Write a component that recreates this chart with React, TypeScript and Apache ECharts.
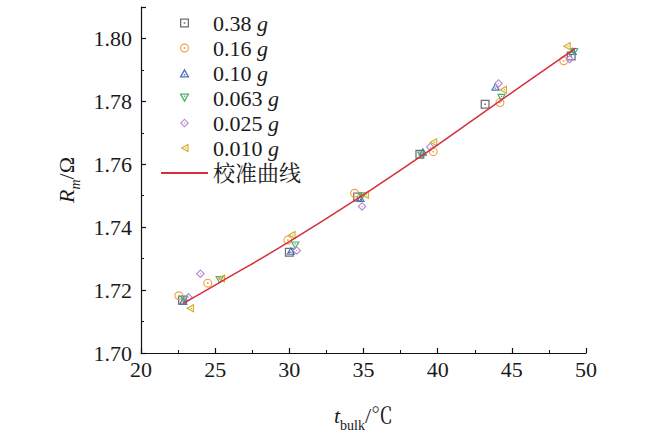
import React, { useEffect, useRef } from "react";
import * as echarts from "echarts";

// ---- data ----
const seriesNames = ["0.38 g", "0.16 g", "0.10 g", "0.063 g", "0.025 g", "0.010 g"];
const lineName = "校准曲线";

const t038 = [22.8, 30.0, 34.6, 38.8, 43.2, 49.0];
const r038 = [1.7168, 1.732, 1.7496, 1.7632, 1.7791, 1.7944];
const t016 = [22.55, 24.5, 29.9, 34.4, 39.7, 44.2, 48.5];
const r016 = [1.7182, 1.7222, 1.7359, 1.7508, 1.764, 1.7796, 1.7929];
const t010 = [22.85, 30.1, 34.8, 39.0, 43.9, 49.1];
const r010 = [1.7166, 1.7325, 1.7493, 1.764, 1.7847, 1.796];
const t0063 = [22.9, 25.3, 30.4, 34.9, 38.9, 44.3, 49.2];
const r0063 = [1.717, 1.7232, 1.7342, 1.7498, 1.7628, 1.7811, 1.7957];
const t0025 = [23.2, 24.0, 30.5, 34.9, 39.5, 44.1, 48.9];
const r0025 = [1.7177, 1.7252, 1.7326, 1.7466, 1.7655, 1.7857, 1.7934];
const t0010 = [23.3, 25.4, 30.15, 35.1, 39.7, 44.4, 48.7];
const r0010 = [1.7142, 1.7237, 1.7375, 1.7503, 1.767, 1.7837, 1.7975];

const tCurve = [22.85, 25, 30, 35, 40, 45, 49.3];
const rCurve = [1.7158, 1.7216, 1.7354, 1.7503, 1.7662, 1.7828, 1.7969];

const xTicks = { min: 20, max: 50, interval: 5 };
const yTicks = { min: 1.7, max: 1.81, interval: 0.02 };

const colors = ["#6e6e6e", "#f0a048", "#4a6fb5", "#4caf70", "#b68ad8", "#d4ae2c"];
const lineColor = "#d62f3c";

const symbols = [
  "path://M0,0L10,0L10,10L0,10Z M1.4,1.4L1.4,8.6L8.6,8.6L8.6,1.4Z M4.1,4.1L5.9,4.1L5.9,5.9L4.1,5.9Z",
  "path://M0,5A5,5,0,1,1,10,5A5,5,0,1,1,0,5Z M1.3,5A3.7,3.7,0,1,0,8.7,5A3.7,3.7,0,1,0,1.3,5Z M4,5A1,1,0,1,1,6,5A1,1,0,1,1,4,5Z",
  "path://M5,0L10,9L0,9Z M5,2.7L2.2,7.7L7.8,7.7Z M4.3,5.5L5.7,5.5L5.7,6.9L4.3,6.9Z",
  "path://M0,0L10,0L5,9Z M2.2,1.3L5,6.3L7.8,1.3Z M4.3,2.1L5.7,2.1L5.7,3.5L4.3,3.5Z",
  "path://M5,0L10,5L5,10L0,5Z M5,1.8L1.8,5L5,8.2L8.2,5Z M5,4.2L5.8,5L5,5.8L4.2,5Z",
  "path://M0,5L9,0L9,10Z M2.7,5L7.7,7.8L7.7,2.2Z M5.3,4.3L6.7,4.3L6.7,5.7L5.3,5.7Z",
];

const tData = [t038, t016, t010, t0063, t0025, t0010];
const rData = [r038, r016, r010, r0063, r0025, r0010];

const SERIF = "Liberation Serif, Noto Serif CJK SC, Noto Sans CJK SC, serif";
const TXT = "#1a1a1a";

export default function App() {
  const ref = useRef<HTMLDivElement>(null);
  useEffect(() => {
    if (!ref.current) return;
    const chart = echarts.init(ref.current, undefined, { renderer: "svg" });
    const scatterSeries = seriesNames.map((name, i) => ({
      name,
      type: "scatter",
      symbol: symbols[i],
      symbolSize: 9,
      symbolKeepAspect: true,
      itemStyle: { color: colors[i], opacity: 1 },
      data: tData[i].map((t, j) => [t, rData[i][j]]),
      z: 2,
    }));
    const option = {
      animation: false,
      grid: { left: 141, right: 64, top: 7, bottom: 70, containLabel: false },
      legend: {
        orient: "vertical",
        left: 155,
        top: 7,
        itemGap: 3,
        itemWidth: 47,
        itemHeight: 9,
        data: [
          ...seriesNames,
          { name: lineName, itemStyle: { color: "rgba(0,0,0,0)", borderWidth: 0, opacity: 0 } },
        ],
        formatter: (name: string) =>
          name.endsWith(" g") ? `{n|${name.slice(0, -1)}}{g|g}` : `{n|${name}}`,
        textStyle: {
          fontFamily: SERIF,
          fontSize: 22,
          color: TXT,
          rich: {
            n: { fontFamily: SERIF, fontSize: 22, color: TXT },
            g: { fontFamily: SERIF, fontSize: 22, color: TXT, fontStyle: "italic" },
          },
        },
      },
      xAxis: {
        type: "value",
        min: xTicks.min,
        max: xTicks.max,
        interval: xTicks.interval,
        name: "{i|t}{s|bulk}{n|/℃}",
        nameLocation: "middle",
        nameGap: 50,
        nameTextStyle: {
          rich: {
            i: { fontFamily: SERIF, fontSize: 22, fontStyle: "italic", color: TXT, verticalAlign: "bottom", lineHeight: 24 },
            s: { fontFamily: SERIF, fontSize: 14, color: TXT, verticalAlign: "bottom", lineHeight: 24, padding: [0, 0, -5, 0] },
            n: { fontFamily: SERIF, fontSize: 22, color: TXT, verticalAlign: "bottom", lineHeight: 24 },
          },
        },
        axisLine: { onZero: false, lineStyle: { color: "#111", width: 1.2 } },
        axisTick: { inside: true, length: 5, lineStyle: { color: "#111", width: 1.2 } },
        minorTick: { show: true, splitNumber: 2, length: 3, lineStyle: { color: "#111", width: 1 } },
        axisLabel: { fontFamily: SERIF, fontSize: 22, color: TXT, margin: 5 },
        splitLine: { show: false },
      },
      yAxis: {
        type: "value",
        min: yTicks.min,
        max: yTicks.max,
        interval: yTicks.interval,
        name: "{i|R}{s|m}{n|/Ω}",
        nameLocation: "middle",
        nameRotate: 90,
        nameGap: 64,
        nameTextStyle: {
          rich: {
            i: { fontFamily: SERIF, fontSize: 22, fontStyle: "italic", color: TXT, verticalAlign: "bottom", lineHeight: 24 },
            s: { fontFamily: SERIF, fontSize: 14, fontStyle: "italic", color: TXT, verticalAlign: "bottom", lineHeight: 24, padding: [0, 0, -5, 0] },
            n: { fontFamily: SERIF, fontSize: 22, color: TXT, verticalAlign: "bottom", lineHeight: 24 },
          },
        },
        axisLine: { onZero: false, lineStyle: { color: "#111", width: 1.2 } },
        axisTick: { inside: true, length: 5, lineStyle: { color: "#111", width: 1.2 } },
        minorTick: { show: true, splitNumber: 2, length: 3, lineStyle: { color: "#111", width: 1 } },
        axisLabel: {
          fontFamily: SERIF,
          fontSize: 22,
          color: TXT,
          margin: 9,
          showMaxLabel: false,
          formatter: (v: number) => v.toFixed(2),
        },
        splitLine: { show: false },
      },
      series: [
        ...scatterSeries,
        {
          name: lineName,
          type: "line",
          smooth: true,
          symbol: "none",
          lineStyle: { color: lineColor, width: 1.5 },
          itemStyle: { color: lineColor },
          data: tCurve.map((t, j) => [t, rCurve[j]]),
          z: 3,
        },
      ],
    };
    chart.setOption(option as any);
    return () => chart.dispose();
  }, []);
  return (
    <div
      ref={ref}
      style={{ position: "absolute", left: 0, top: 0, width: 650, height: 437 }}
    />
  );
}
